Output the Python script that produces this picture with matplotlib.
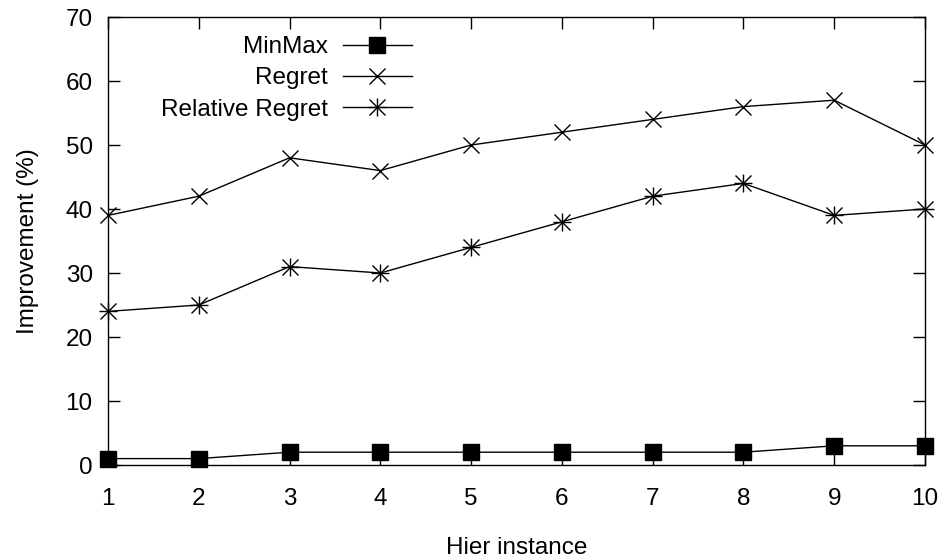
import matplotlib
matplotlib.use('Agg')
import matplotlib.pyplot as plt

plt.rcParams['font.family'] = ['Liberation Sans', 'DejaVu Sans']

# data
instances = [1, 2, 3, 4, 5, 6, 7, 8, 9, 10]
minmax = [1, 1, 2, 2, 2, 2, 2, 2, 3, 3]
regret = [39, 42, 48, 46, 50, 52, 54, 56, 57, 50]
rel_regret = [24, 25, 31, 30, 34, 38, 42, 44, 39, 40]

fs = 17.5

fig = plt.figure(figsize=(9.38, 5.58), dpi=100)
ax = fig.add_axes([108/938, 1 - 465/558, (925 - 108)/938, (465 - 17)/558])

l1, = ax.plot(instances, minmax, color='black', lw=1, marker='s', ms=11,
              clip_on=False)
l2, = ax.plot(instances, regret, color='black', lw=1, marker='x', ms=12, mew=1,
              clip_on=False)
# gnuplot style asterisk: an x with a + on top
l3, = ax.plot(instances, rel_regret, color='black', lw=1, marker='x', ms=12, mew=1,
              clip_on=False)
l3b, = ax.plot(instances, rel_regret, color='black', lw=0, marker='+', ms=13, mew=1,
               clip_on=False)

ax.set_xlim(1, 10)
ax.set_ylim(0, 70)
ax.set_xticks(instances)
ax.set_yticks(range(0, 71, 10))
ax.tick_params(direction='in', top=True, right=True, length=8.5, width=1, labelsize=fs)
ax.tick_params(axis='x', pad=16.5)
ax.tick_params(axis='y', pad=11)
for s in ax.spines.values():
    s.set_linewidth(1)

ax.set_xlabel('Hier instance', fontsize=fs)
ax.set_ylabel('Improvement (%)', fontsize=fs)
ax.xaxis.set_label_coords(0.5, -0.16)
ax.yaxis.set_label_coords(-0.0845, 0.5)

ax.legend([l1, l2, (l3, l3b)], ['MinMax', 'Regret', 'Relative Regret'],
          loc='upper right', bbox_to_anchor=(412/938, 1 - 36/558), bbox_transform=fig.transFigure,
          frameon=False, markerfirst=False, fontsize=fs, handlelength=2.84,
          labelspacing=0.38, handletextpad=0.62, borderpad=0, borderaxespad=0)

fig.savefig('out.png', dpi=100)
